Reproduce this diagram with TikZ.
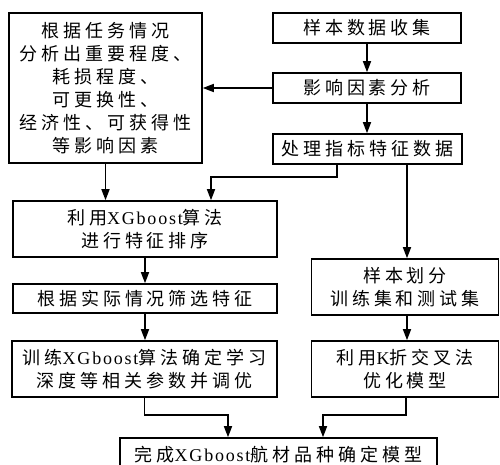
\documentclass[tikz,border=0pt]{standalone}
\usepackage{fontspec}
\setmainfont{Noto Sans CJK SC}[LetterSpace=22]
\newfontfamily\lat{Liberation Serif}[LetterSpace=10]
\usetikzlibrary{arrows.meta}
\newcommand{\boxfont}{\fontsize{18pt}{23pt}\selectfont}
\tikzset{
  box/.style={draw, line width=1.6pt, inner sep=0pt, align=center, font=\boxfont},
  arr/.style={line width=1.6pt, -{Triangle[length=11pt,width=8pt]}},
  conn/.style={line width=1.6pt}
}
\begin{document}
\begin{tikzpicture}[x=1pt,y=-1pt]
\fill[white] (0,0) rectangle (500,465);
\clip (0,0) rectangle (500,465);
\node[box, minimum width=188pt, minimum height=30pt] (A) at (367,28) {样本数据收集};
\node[box, minimum width=188pt, minimum height=30pt] (B) at (367,88) {影响因素分析};
\node[box, minimum width=189pt, minimum height=30pt] (C) at (367.5,149) {处理指标特征数据};
\node[box, minimum width=193pt, minimum height=150pt] (L) at (105.5,88) {根据任务情况\\分析出重要程度、\\耗损程度、\\可更换性、\\经济性、可获得性\\等影响因素};
\node[box, minimum width=264pt, minimum height=56pt] (D) at (145,229) {利用{\lat XGboost}算法\\进行特征排序};
\node[box, minimum width=264pt, minimum height=29pt] (E) at (145,298.5) {根据实际情况筛选特征};
\node[box, minimum width=265pt, minimum height=56pt] (F) at (144.5,369) {训练{\lat XGboost}算法确定学习\\深度等相关参数并调优};
\node[box, minimum width=187pt, minimum height=56pt] (G) at (405,287) {样本划分\\训练集和测试集};
\node[box, minimum width=187pt, minimum height=56pt] (H) at (405,369) {利用{\lat K}折交叉法\\优化模型};
\node[box, minimum width=317pt, minimum height=34pt] (I) at (278.5,455) {完成{\lat XGboost}航材品种确定模型};

\draw[arr] (A) -- (B);
\draw[arr] (B.south) -- (B.south |- C.north);
\draw[arr] (B.west) -- (L.east);
\draw[arr] (L.south) -- (L.south |- D.north);
\draw[arr] ([xshift=-30.5pt]C.south) -- ++(0,12) -| ([xshift=66pt]D.north);
\draw[arr] ([xshift=39.5pt]C.south) -- ([xshift=39.5pt]C.south |- G.north);
\draw[arr] (D) -- (E);
\draw[arr] (E.south) -- (E.south |- F.north);
\draw[arr] ([xshift=2pt]G.south) -- ([xshift=2pt]G.south |- H.north);
\draw[arr] (F.south) -- ++(0,17) -| ([xshift=-50.5pt]I.north);
\draw[arr] ([xshift=1pt]H.south) -- ++(0,17) -| ([xshift=44.5pt]I.north);
\end{tikzpicture}
\end{document}
